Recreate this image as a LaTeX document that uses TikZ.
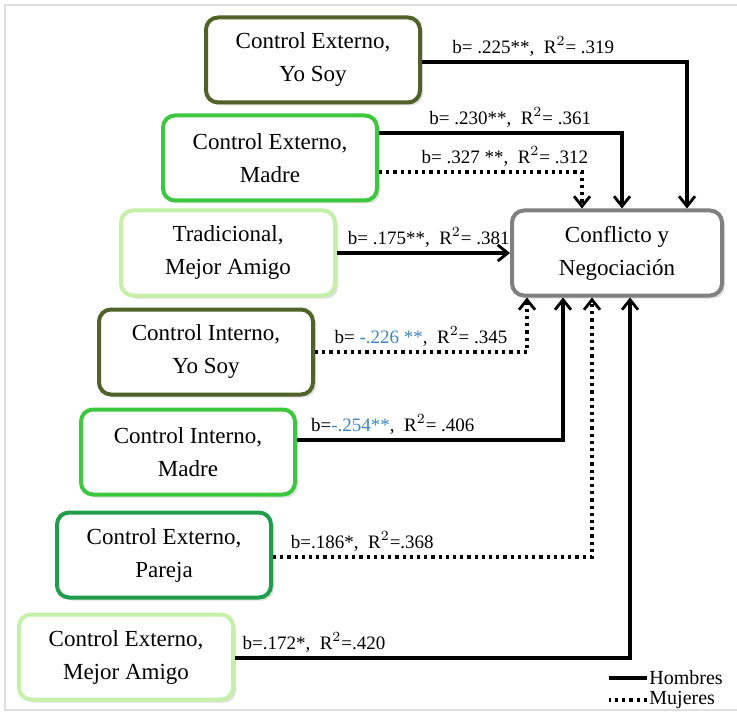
\documentclass[tikz,border=0pt]{standalone}
\usepackage{fontspec}
\setmainfont{Liberation Serif}
\usetikzlibrary{arrows.meta,shadows}

\definecolor{olivo}{HTML}{4F6228}
\definecolor{verde}{HTML}{3CC83C}
\definecolor{verdeclaro}{HTML}{C4F0A8}
\definecolor{verdemedio}{HTML}{1E9E4A}
\definecolor{azulb}{HTML}{3B86C4}

\begin{document}
\begin{tikzpicture}[x=0.5pt, y=-0.5pt,
	factor/.style={draw, fill=white, rounded corners=6pt, line width=2pt, align=center,
		minimum width=107pt, minimum height=42.5pt, font=\fontsize{11.5}{16.5}\selectfont,
		drop shadow={opacity=0.25, shadow xshift=1.5pt, shadow yshift=-1.5pt}},
	hombre/.style={line width=1.6pt, -{Straight Barb[length=5pt, width=8pt, line width=1.4pt]}},
	mujer/.style={hombre, dotted},
	lbl/.style={above, inner sep=2pt, font=\fontsize{9.5}{11}\selectfont},
	leyenda/.style={anchor=west, inner sep=1pt, font=\fontsize{10}{12}\selectfont}]
	\useasboundingbox (0,0) rectangle (737,716);
	\draw[gray!25, line width=0.8pt] (737,5) -- (5,5) -- (5,710) -- (737,710);

	% predictores
	\node[factor, draw=olivo] (ceys) at (313,60) {Control Externo,\\Yo Soy};
	\node[factor, draw=verde] (cem) at (270,158) {Control Externo,\\Madre};
	\node[factor, draw=verdeclaro] (tma) at (228,253) {Tradicional,\\Mejor Amigo};
	\node[factor, draw=olivo] (ciys) at (206,352) {Control Interno,\\Yo Soy};
	\node[factor, draw=verde] (cim) at (188,452) {Control Interno,\\Madre};
	\node[factor, draw=verdemedio] (cep) at (164,555) {Control Externo,\\Pareja};
	\node[factor, draw=verdeclaro] (cema) at (126,657) {Control Externo,\\Mejor Amigo};

	% resultado
	\node[factor, draw=gray, minimum width=105pt] (res) at (617,253) {Conflicto y\\Negociaci\'on};

	% efectos
	\draw[hombre] ([yshift=-1pt]ceys.east) -| node[lbl, pos=0.21] {b= .225**,\ \ R$^2$= .319} ([xshift=35pt]res.north);
	\draw[hombre] ([yshift=12.5pt]cem.east) -| node[lbl, pos=0.27] {b= .230**,\ \ R$^2$= .361} ([xshift=2.5pt]res.north);
	\draw[mujer] ([yshift=-7pt]cem.east) -| node[lbl, pos=0.31] {b= .327 **,\ \ R$^2$= .312} ([xshift=-17.5pt]res.north);
	\draw[hombre] (tma.east) -- node[lbl, pos=0.53] {b= .175**,\ \ R$^2$= .381} (res.west);
	\draw[mujer] (ciys.east) -| node[lbl, pos=0.25] {b= \textcolor{azulb}{-.226 **},\ \ R$^2$= .345} ([xshift=-45pt]res.south);
	\draw[hombre] ([yshift=6pt]cim.east) -| node[lbl, pos=0.18] {b=\textcolor{azulb}{-.254**},\ \ R$^2$= .406} ([xshift=-27pt]res.south);
	\draw[mujer] ([yshift=-1pt]cep.east) -| node[lbl, pos=0.14] {b=.186*,\ \ R$^2$=.368} ([xshift=-12.5pt]res.south);
	\draw[hombre] ([yshift=-0.5pt]cema.east) -| node[lbl, pos=0.1] {b=.172*,\ \ R$^2$=.420} ([xshift=6.5pt]res.south);

	% leyenda
	\node[leyenda] (hom) at (647,678) {Hombres};
	\node[leyenda] (muj) at (647,700) {Mujeres};
	\draw[line width=1.6pt] (hom.west) -- ++(-38,0);
	\draw[line width=1.6pt, dotted] (muj.west) -- ++(-38,0);
\end{tikzpicture}
\end{document}
